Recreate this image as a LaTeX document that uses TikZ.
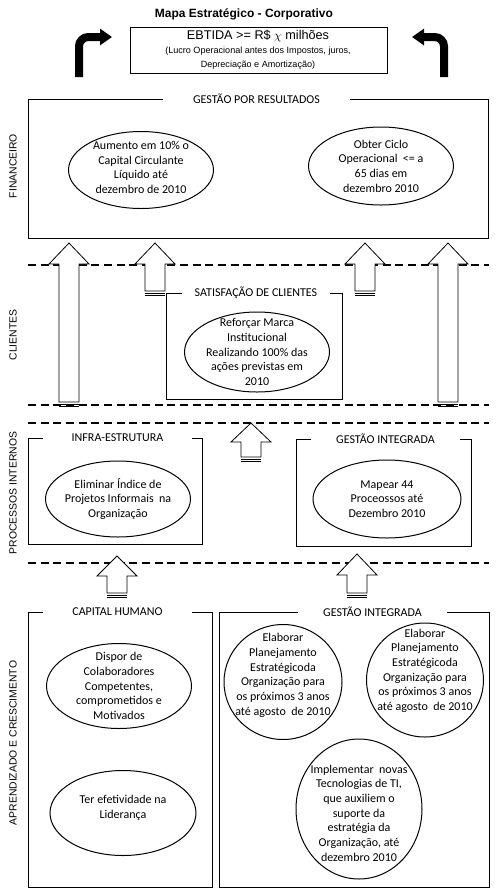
\documentclass[tikz,border=0pt]{standalone}
\usepackage{fontspec}
\setmainfont{Liberation Sans}
\newfontfamily\calibri{Carlito}
\usetikzlibrary{arrows.meta, shapes.geometric}
\tikzset{
	x=0.75pt, y=-0.75pt, % Unidades en pixeles
	caixa/.style={line width=0.75pt}, % Bordes de las cajas
	oval/.style={draw, ellipse, line width=0.75pt, inner sep=0pt}, % Objetivos
	texto/.style={font=\calibri\fontsize{9}{11}\selectfont, align=center}, % Texto de objetivos
	titulo/.style={fill=white, font=\calibri\fontsize{9}{10}\selectfont, inner xsep=0pt, inner ysep=1pt, minimum height=0pt}, % Titulo de caja
	lateral/.style={rotate=90, font=\fontsize{7.8}{9}\selectfont}, % Perspectivas
	divisa/.style={line width=1.4pt, dash pattern=on 6pt off 3.5pt}, % Lineas divisorias
	seta/.style={fill=white, line width=0.6pt}, % Flechas huecas
	curva/.style={line width=6pt, rounded corners=7pt, -{Triangle[length=9pt,width=12pt]}} % Flechas curvas
}

\begin{document}
\begin{tikzpicture}
	\useasboundingbox (0,0) rectangle (500,894);

	% encabezado
	\node[font=\bfseries\fontsize{9}{11}\selectfont] (mapa) at (244,14) {Mapa Estratégico - Corporativo};
	\draw[caixa] (130,27) rectangle (387,73);
	\node[font=\fontsize{9.5}{11}\selectfont] (ebtida) at (258,36) {EBTIDA >= R\$ $\chi$ milhões};
	\node[font=\fontsize{6.8}{8}\selectfont] (lucro) at (258,51) {(Lucro Operacional antes dos Impostos, juros,};
	\node[font=\fontsize{6.8}{8}\selectfont] (depre) at (258,65) {Depreciação e Amortização)};
	\draw[curva] (79,77) -- (79,37) -- (112,37);
	\draw[curva] (444,77) -- (444,37) -- (412,37);

	% lineas divisorias
	\foreach \y in {265, 405, 423, 563}
		\draw[divisa] (28,\y) -- (489,\y);

	% perspectivas
	\node[lateral] (fin) at (13,166) {FINANCEIRO};
	\node[lateral] (cli) at (13,335) {CLIENTES};
	\node[lateral] (proc) at (13,493) {PROCESSOS INTERNOS};
	\node[lateral] (apr) at (13,743) {APRENDIZADO E CRESCIMENTO};

	% cajas
	\draw[caixa] (28,99) rectangle (488,238);
	\node[titulo, minimum width=140.25pt] (gpr) at (256.5,99) {GESTÃO POR RESULTADOS};
	\draw[caixa] (166,293) rectangle (342,399);
	\node[titulo, minimum width=111pt] (sat) at (256,293) {SATISFAÇÃO DE CLIENTES};
	\draw[caixa] (28,438) rectangle (202,544);
	\node[titulo, minimum width=111.75pt] (infra) at (117.5,438) {INFRA-ESTRUTURA};
	\draw[caixa] (296,439) rectangle (471,546);
	\node[titulo, minimum width=111.75pt] (gip) at (385.5,439) {GESTÃO INTEGRADA};
	\draw[caixa] (28,612) rectangle (212,887);
	\node[titulo, minimum width=111.75pt] (cap) at (117.5,612) {CAPITAL HUMANO};
	\draw[caixa] (219,612) rectangle (489,887);
	\node[titulo, minimum width=111.75pt] (gia) at (372.5,612) {GESTÃO INTEGRADA};

	% flechas huecas
	\foreach \cx/\yb/\yh/\yt in {69/402/264/243, 155/291/264/243, 365/291/264/243, 448/402/264/243,
			251/457/442/423, 117/593/576/556, 357/593/575/554}{
		\draw[seta] (\cx-10,\yb) -- (\cx-10,\yh) -- (\cx-20,\yh) -- (\cx,\yt) -- (\cx+20,\yh) -- (\cx+10,\yh) -- (\cx+10,\yb) -- cycle;
		\draw[line width=0.6pt] (\cx-10,\yb+2) -- (\cx+10,\yb+2);
		\draw[line width=0.6pt] (\cx-10,\yb+4) -- (\cx+10,\yb+4);
	}

	% objetivos
	\node[oval, minimum width=108.75pt, minimum height=57.75pt,
		label={[texto, yshift=2pt]center:{Aumento em 10\% o\\Capital Circulante\\Líquido até\\dezembro de 2010}}] (f1) at (141,170) {};
	\node[oval, minimum width=108.75pt, minimum height=58.5pt,
		label={[texto]center:{Obter Ciclo\\Operacional~ <= a\\65 dias em\\dezembro 2010}}] (f2) at (381,166) {};
	\node[oval, minimum width=108.75pt, minimum height=60pt,
		label={[texto]center:{Reforçar Marca\\Institucional\\Realizando 100\% das\\ações previstas em\\2010}}] (c1) at (257,352) {};
	\node[oval, minimum width=108.75pt, minimum height=57pt,
		label={[texto]center:{Eliminar Índice de\\Projetos Informais~ na\\Organização}}] (p1) at (118,499) {};
	\node[oval, minimum width=111pt, minimum height=58.5pt,
		label={[texto]center:{Mapear 44\\Proceossos até\\Dezembro 2010}}] (p2) at (387,499) {};
	\node[oval, minimum width=108.75pt, minimum height=63.75pt,
		label={[texto]center:{Dispor de\\Colaboradores\\Competentes,\\comprometidos e\\Motivados}}] (a1) at (119,686) {};
	\node[oval, minimum width=109.5pt, minimum height=63.75pt,
		label={[texto, yshift=4pt]center:{Ter efetividade na\\Liderança}}] (a2) at (123,813) {};
	\node[oval, minimum width=88.5pt, minimum height=86.25pt,
		label={[texto, yshift=5pt]center:{Elaborar\\Planejamento\\Estratégicoda\\Organização para\\os próximos 3 anos\\até agosto~ de 2010}}] (g1) at (283,682) {};
	\node[oval, minimum width=87.75pt, minimum height=85.5pt,
		label={[texto, yshift=7pt]center:{Elaborar\\Planejamento\\Estratégicoda\\Organização para\\os próximos 3 anos\\até agosto~ de 2010}}] (g2) at (425,680) {};
	\node[oval, minimum width=94.5pt, minimum height=105pt,
		label={[texto, yshift=-3pt]center:{Implementar~ novas\\Tecnologias de TI,\\que auxiliem o\\suporte da\\estratégia da\\Organização, até\\dezembro 2010}}] (g3) at (359,809) {};
\end{tikzpicture}
\end{document}
